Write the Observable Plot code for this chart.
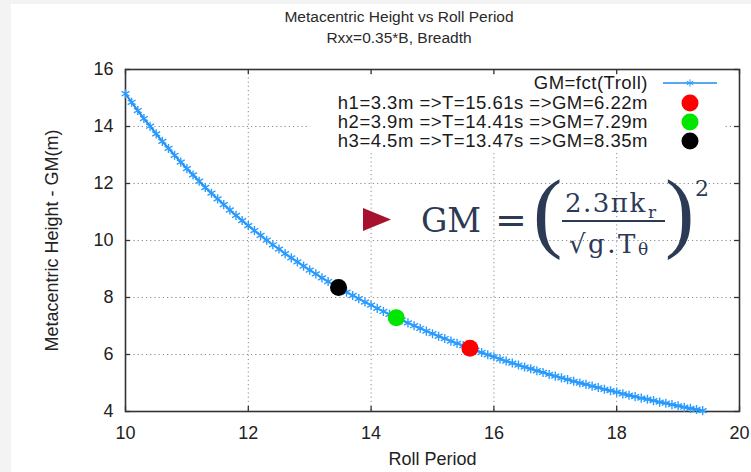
<!DOCTYPE html>
<html><head><meta charset="utf-8">
<script src="https://cdn.jsdelivr.net/npm/d3@7"></script>
<script src="https://cdn.jsdelivr.net/npm/@observablehq/plot@0.6"></script>
<style>
html,body{margin:0;padding:0;background:#f3f3f3;}
#wrap{position:relative;width:751px;height:472px;overflow:hidden;font-family:"Liberation Sans",Arial,sans-serif;color:#222;}
#paper{position:absolute;left:11px;top:4px;right:0;bottom:0;background:#fff;}
#chart{position:absolute;left:0;top:0;}
.ttl{position:absolute;left:0;width:798px;text-align:center;font-size:15.5px;line-height:20px;color:#2a2a2a;}
#legbox{position:absolute;left:310px;top:75px;width:414px;height:77px;background:#fff;}
.legrow{position:absolute;right:103px;font-size:18.5px;line-height:18px;letter-spacing:0.5px;white-space:pre;color:#1a1a1a;text-align:right;}
#ovl{position:absolute;left:0;top:0;}
.f{position:absolute;font-family:"DejaVu Serif","Liberation Serif",serif;color:#2b3a55;line-height:1;white-space:pre;}
.p{position:absolute;font-family:"Liberation Serif",serif;color:#2b3a55;line-height:1;white-space:pre;}
</style>
</head><body>
<div id="wrap">
  <div id="paper"></div>
  <div id="chart"></div>
  <div class="ttl" style="top:7px">Metacentric Height vs Roll Period</div>
  <div class="ttl" style="top:28px">Rxx=0.35*B, Breadth</div>
  <div id="legbox"></div>
  <div id="legend"></div>
  <svg id="ovl" width="751" height="472"></svg>
  <div class="f" style="left:421px;top:204px;font-size:33px;">GM</div>
  <div class="f" style="left:495px;top:201px;font-size:38px;">=</div>
  <div class="p" style="left:533px;top:168px;font-size:88px;">(</div>
  <div class="f" style="left:565px;top:190px;font-size:26px;letter-spacing:1.5px;">2.3πk</div>
  <div class="f" style="left:648px;top:204px;font-size:17px;">r</div>
  <div class="f" style="left:562px;top:220px;width:103px;height:2px;background:#2b3a55;"></div>
  <div class="f" style="left:569px;top:231px;font-size:26px;letter-spacing:2.5px;">√g.T</div>
  <div class="f" style="left:638px;top:241px;font-size:17px;">θ</div>
  <div class="p" style="left:665px;top:168px;font-size:88px;">)</div>
  <div class="f" style="left:695px;top:178px;font-size:22px;">2</div>
</div>
<script>
// Roll period (s) sampled along the curve
const periods = [10.0,10.1,10.2,10.3,10.4,10.5,10.6,10.7,10.8,10.9,
  11.0,11.1,11.2,11.3,11.4,11.5,11.6,11.7,11.8,11.9,
  12.0,12.1,12.2,12.3,12.4,12.5,12.6,12.7,12.8,12.9,
  13.0,13.1,13.2,13.3,13.4,13.5,13.6,13.7,13.8,13.9,
  14.0,14.1,14.2,14.3,14.4,14.5,14.6,14.7,14.8,14.9,
  15.0,15.1,15.2,15.3,15.4,15.5,15.6,15.7,15.8,15.9,
  16.0,16.1,16.2,16.3,16.4,16.5,16.6,16.7,16.8,16.9,
  17.0,17.1,17.2,17.3,17.4,17.5,17.6,17.7,17.8,17.9,
  18.0,18.1,18.2,18.3,18.4,18.5,18.6,18.7,18.8,18.9,
  19.0,19.1,19.2,19.3,19.4];
// Metacentric height GM (m)
const gmValues = [15.15,14.85,14.56,14.28,14.01,13.74,13.48,13.23,12.99,12.75,
  12.52,12.30,12.08,11.86,11.66,11.46,11.26,11.07,10.88,10.70,
  10.52,10.35,10.18,10.01,9.85,9.70,9.54,9.39,9.25,9.10,
  8.96,8.83,8.69,8.56,8.44,8.31,8.19,8.07,7.96,7.84,
  7.73,7.62,7.51,7.41,7.31,7.21,7.11,7.01,6.92,6.82,
  6.73,6.64,6.56,6.47,6.39,6.31,6.23,6.15,6.07,5.99,
  5.92,5.84,5.77,5.70,5.63,5.56,5.50,5.43,5.37,5.30,
  5.24,5.18,5.12,5.06,5.00,4.95,4.89,4.84,4.78,4.73,
  4.68,4.62,4.57,4.52,4.47,4.43,4.38,4.33,4.29,4.24,
  4.20,4.15,4.11,4.07,4.03];
const seriesLabel = "GM=fct(Troll)";
const pointLabels = ["h1=3.3m =>T=15.61s =>GM=6.22m","h2=3.9m =>T=14.41s =>GM=7.29m","h3=4.5m =>T=13.47s =>GM=8.35m"];
const pointT = [15.61, 14.41, 13.47];
const pointGM = [6.22, 7.29, 8.35];
const pointColors = ["#ff0000", "#00e600", "#000000"];
const xTicks = [10,12,14,16,18,20];
const yTicks = [4,6,8,10,12,14,16];
const lineColor = "#1c8cf0";
const markColor = "#2a9cff";

const curve = periods.map((t,i)=>({t, gm: gmValues[i]}));
const pts = pointT.map((t,i)=>({t, gm: pointGM[i], color: pointColors[i]}));

const W = 751, H = 472, mL = 125, mR = 12, mT = 69, mB = 61;
const pw = W - mL - mR, ph = H - mT - mB;
const grid = {stroke:"#8c8c8c", strokeOpacity:1, strokeDasharray:"1.2,3", strokeWidth:1};
const tk = {stroke:"#333", strokeWidth:1.3};

const chart = Plot.plot({
  width: W, height: H,
  marginLeft: mL, marginRight: mR, marginTop: mT, marginBottom: mB,
  style: {background:"transparent", fontFamily:'"Liberation Sans",Arial,sans-serif', fontSize:"18px", color:"#222"},
  x: {domain:[10,20], ticks:xTicks},
  y: {domain:[4,16], ticks:yTicks},
  marks: [
    Plot.gridX(xTicks, grid),
    Plot.gridY(yTicks, grid),
    Plot.ruleX(xTicks, {...tk, insetTop: ph-5}),
    Plot.ruleX(xTicks, {...tk, insetBottom: ph-5}),
    Plot.ruleY(yTicks, {...tk, insetRight: pw-5}),
    Plot.ruleY(yTicks, {...tk, insetLeft: pw-5}),
    Plot.frame({stroke:"#333", strokeWidth:1.6}),
    Plot.axisX(xTicks, {anchor:"bottom", tickSize:0, tickPadding:15, fontSize:18, label:"Roll Period", labelAnchor:"center", labelOffset:53, labelArrow:"none"}),
    Plot.axisY(yTicks, {anchor:"left", tickSize:0, tickPadding:12, fontSize:18, label:"Metacentric Height - GM(m)", labelAnchor:"center", labelOffset:80, labelArrow:"none"}),
    Plot.line(curve, {x:"t", y:"gm", stroke:lineColor, strokeWidth:2}),
    Plot.dot(curve, {x:"t", y:"gm", symbol:"asterisk", r:4.3, stroke:markColor, strokeWidth:1.4}),
    Plot.dot(pts, {x:"t", y:"gm", r:8.5, fill:"color", stroke:null})
  ]
});
document.getElementById("chart").appendChild(chart);

// legend (inside plot, top right)
const leg = document.getElementById("legend");
const rows = [seriesLabel, ...pointLabels];
const rowY = [83, 103, 122, 141];
rows.forEach((txt,i)=>{
  const d = document.createElement("div");
  d.className = "legrow";
  d.style.top = (rowY[i]-9) + "px";
  d.textContent = txt;
  leg.appendChild(d);
});
const ovl = d3.select("#ovl");
ovl.append("line").attr("x1",663).attr("x2",717).attr("y1",rowY[0]).attr("y2",rowY[0]).attr("stroke",lineColor).attr("stroke-width",1.5);
ovl.append("path").attr("transform",`translate(690,${rowY[0]})`).attr("d", d3.symbol(d3.symbolAsterisk, Math.PI*3.5*3.5)()).attr("stroke",markColor).attr("fill","none");
pointColors.forEach((c,i)=>{
  ovl.append("circle").attr("cx",690).attr("cy",rowY[i+1]).attr("r",8.5).attr("fill",c);
});
// formula marker triangle
ovl.append("path").attr("d","M363,208L391,219.5L363,231Z").attr("fill","#a8112d");
</script>
</body></html>
